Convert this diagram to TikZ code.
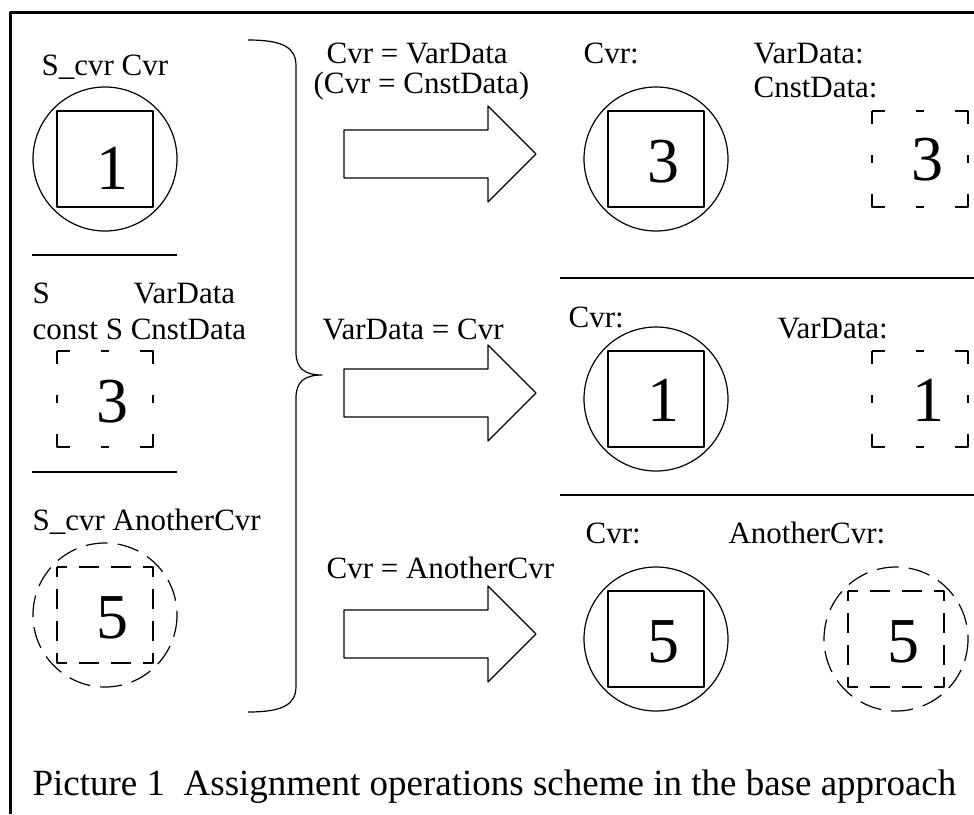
\documentclass[tikz,border=0pt]{standalone}
\usepackage{fontspec}
\setmainfont{Liberation Serif}
\begin{document}
\begin{tikzpicture}[x=1pt,y=-1pt,line join=round,line width=1.2pt]
	\tikzset{lbl/.style={anchor=base west,inner sep=0pt,font=\fontsize{31}{36}\selectfont},
		digit/.style={inner sep=0pt,font=\fontsize{64}{70}\selectfont},
		databox/.style={dash pattern=on 26pt off 31pt on 8pt off 31pt,dash phase=13pt},
		ghostbox/.style={dash pattern=on 20pt off 12pt,dash phase=10pt},
		ghostcirc/.style={dash pattern=on 22pt off 10pt}}
	\useasboundingbox (0,0) rectangle (974,814);
	\draw[line width=3pt] (974,12) -| (10,814);
	% left column
	\node[lbl] (lcvr) at (41,75) {S\_cvr Cvr};
	\draw (105,159) circle[radius=72];
	\draw (57,111) rectangle (153,207);
	\node[digit] (lone) at (112,168) {1};
	\draw (32,255) -- (177,255);
	\node[lbl] (ls) at (32,303) {S};
	\node[lbl] (lvar) at (133,303) {VarData};
	\node[lbl] (lcnst) at (32,339) {const S CnstData};
	\draw[databox] (57,351) rectangle (153,447);
	\node[digit] (lthree) at (112,402) {3};
	\draw (32,472) -- (177,472);
	\node[lbl] (lanother) at (32,530) {S\_cvr AnotherCvr};
	\draw[ghostcirc] (105,615) circle[radius=72];
	\draw[ghostbox] (57,567) rectangle (153,663);
	\node[digit] (lfive) at (112,618) {5};
	% brace
	\draw (248,40) .. controls (284,40) and (296,48) .. (296,66) -- (296,352)
		.. controls (296,368) and (304,375) .. (322,375)
		.. controls (304,375) and (296,382) .. (296,398) -- (296,686)
		.. controls (296,704) and (284,712) .. (248,712);
	% arrows
	\foreach \y in {154,393,634}
	\draw (344,\y-24) -- (488,\y-24) -- (488,\y-48) -- (536,\y) -- (488,\y+48) -- (488,\y+24) -- (344,\y+24) -- cycle;
	\node[lbl] (aone) at (326,63) {Cvr = VarData};
	\node[lbl] (aoneb) at (313,93) {(Cvr = CnstData)};
	\node[lbl] (atwo) at (322,339) {VarData = Cvr};
	\node[lbl] (athree) at (326,578) {Cvr = AnotherCvr};
	% right column
	\foreach \y in {159,399,639}{
		\draw (656,\y) circle[radius=72];
		\draw (608,\y-48) rectangle (704,\y+48);
	}
	\draw (560,278) -- (974,278);
	\draw (560,495) -- (974,495);
	\node[lbl] (rcvrone) at (583,63) {Cvr:};
	\node[lbl] (rvarone) at (753,63) {VarData:};
	\node[lbl] (rcnstone) at (753,97) {CnstData:};
	\node[digit] (rthree) at (663,162) {3};
	\draw[databox] (872,111) rectangle (968,207);
	\node[digit] (rthreeb) at (927,160) {3};
	\node[lbl] (rcvrtwo) at (568,327) {Cvr:};
	\node[lbl] (rvartwo) at (777,338) {VarData:};
	\node[digit] (rone) at (663,400) {1};
	\draw[databox] (872,351) rectangle (968,447);
	\node[digit] (roneb) at (928,400) {1};
	\node[lbl] (rcvrthree) at (585,543) {Cvr:};
	\node[lbl] (ranother) at (728,543) {AnotherCvr:};
	\node[digit] (rfive) at (663,642) {5};
	\draw[ghostcirc] (896,639) circle[radius=72];
	\draw[ghostbox] (848,591) rectangle (944,687);
	\node[digit] (rfiveb) at (903,642) {5};
	% caption
	\node[anchor=base west,inner sep=0pt,font=\fontsize{37}{44}\selectfont] (cap) at (32,795) {Picture 1\ \ Assignment operations scheme in the base approach};
\end{tikzpicture}
\end{document}
